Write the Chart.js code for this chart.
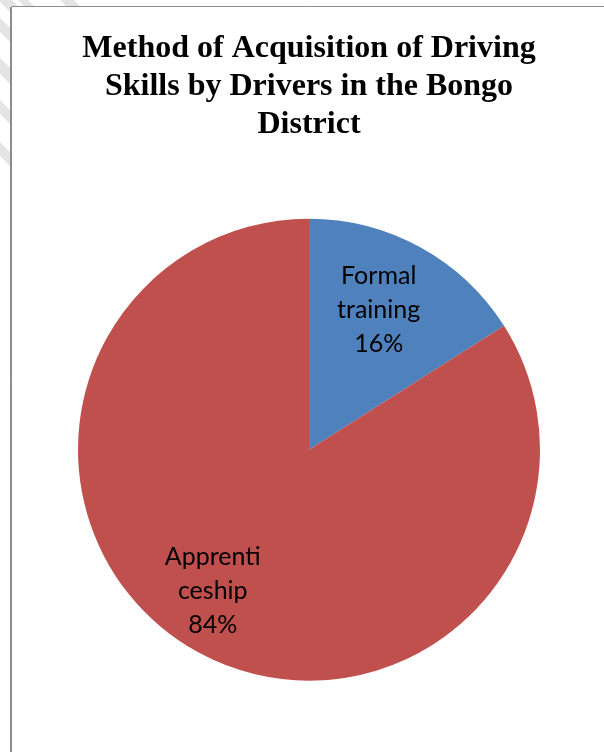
<!DOCTYPE html>
<html>
<head>
<meta charset="utf-8">
<script src="https://cdn.jsdelivr.net/npm/chart.js@4.4.0/dist/chart.umd.min.js"></script>
<style>
html,body{margin:0;padding:0;background:#fff;}
#wrap{width:604px;height:752px;}
</style>
</head>
<body>
<div id="wrap"><canvas id="c" width="604" height="752"></canvas></div>
<script>
const titleLines = ["Method of Acquisition of Driving", "Skills by Drivers in the Bongo", "District"];
const categories = ["Formal training", "Apprenticeship"];
const labelLines = [["Formal", "training"], ["Apprenti", "ceship"]];
const percentages = [16, 84];
const colors = ["#4F81BD", "#C0504D"];

const frame = {
  id: 'frame',
  beforeDraw(chart) {
    const ctx = chart.ctx;
    ctx.save();
    ctx.fillStyle = '#fff';
    ctx.fillRect(0, 0, chart.width, chart.height);
    // faint watermark streaks outside the frame
    ctx.beginPath();
    ctx.rect(0, 0, 10, chart.height);
    ctx.rect(10, 0, chart.width, 6);
    ctx.clip();
    ctx.fillStyle = '#e4e4e4';
    [[-12, 14], [18, 14], [58, 16], [100, 14], [142, 14]].forEach(([c, w]) => {
      ctx.beginPath();
      ctx.moveTo(-20, c - 20); ctx.lineTo(-20, c - 20 + w);
      ctx.lineTo(40, c + 40 + w); ctx.lineTo(40, c + 40);
      ctx.closePath(); ctx.fill();
    });
    [[24, 10], [66, 14]].forEach(([x, w]) => {
      ctx.beginPath();
      ctx.moveTo(x - 6, 0); ctx.lineTo(x - 6 + w, 0);
      ctx.lineTo(x + w, 6); ctx.lineTo(x, 6);
      ctx.closePath(); ctx.fill();
    });
    ctx.restore();
    ctx.save();
    ctx.strokeStyle = '#8c8c8c';
    ctx.lineWidth = 1;
    ctx.beginPath();
    ctx.moveTo(11.5, 800); ctx.lineTo(11.5, 6.5); ctx.lineTo(700, 6.5);
    ctx.stroke();
    ctx.beginPath();
    ctx.moveTo(10.5, 800); ctx.lineTo(10.5, 7);
    ctx.stroke();
    ctx.restore();
  }
};

const sliceLabels = {
  id: 'sliceLabels',
  afterDatasetsDraw(chart) {
    const ctx = chart.ctx;
    const meta = chart.getDatasetMeta(0);
    const fr = [0.68, 0.73];
    const shift = [[-6, -2], [-15, -6]];
    ctx.save();
    ctx.font = '25px Lato, "Open Sans", sans-serif';
    ctx.fillStyle = '#000';
    ctx.textAlign = 'center';
    ctx.textBaseline = 'middle';
    meta.data.forEach((arc, i) => {
      const p = arc.getProps(['x','y','startAngle','endAngle','outerRadius'], true);
      const mid = (p.startAngle + p.endAngle) / 2;
      const r = p.outerRadius * fr[i];
      const cx = p.x + Math.cos(mid) * r + shift[i][0];
      const cy = p.y + Math.sin(mid) * r + shift[i][1];
      const lines = labelLines[i].concat([percentages[i] + '%']);
      const lh = 34;
      lines.forEach((t, k) => {
        ctx.fillText(t, cx, cy + (k - (lines.length - 1) / 2) * lh);
      });
    });
    ctx.restore();
  }
};

new Chart(document.getElementById('c'), {
  type: 'pie',
  data: {
    labels: categories,
    datasets: [{
      data: percentages,
      backgroundColor: colors,
      borderWidth: 0
    }]
  },
  options: {
    responsive: false,
    animation: false,
    layout: { padding: { left: 78, right: 64, bottom: 71 } },
    plugins: {
      legend: { display: false },
      tooltip: { enabled: false },
      title: {
        display: true,
        text: titleLines,
        color: '#000',
        font: { family: '"Liberation Serif", "Times New Roman", serif', size: 32, weight: 'bold', lineHeight: 1.18 },
        padding: { top: 30, bottom: 75 }
      }
    }
  },
  plugins: [frame, sliceLabels]
});
</script>
</body>
</html>
